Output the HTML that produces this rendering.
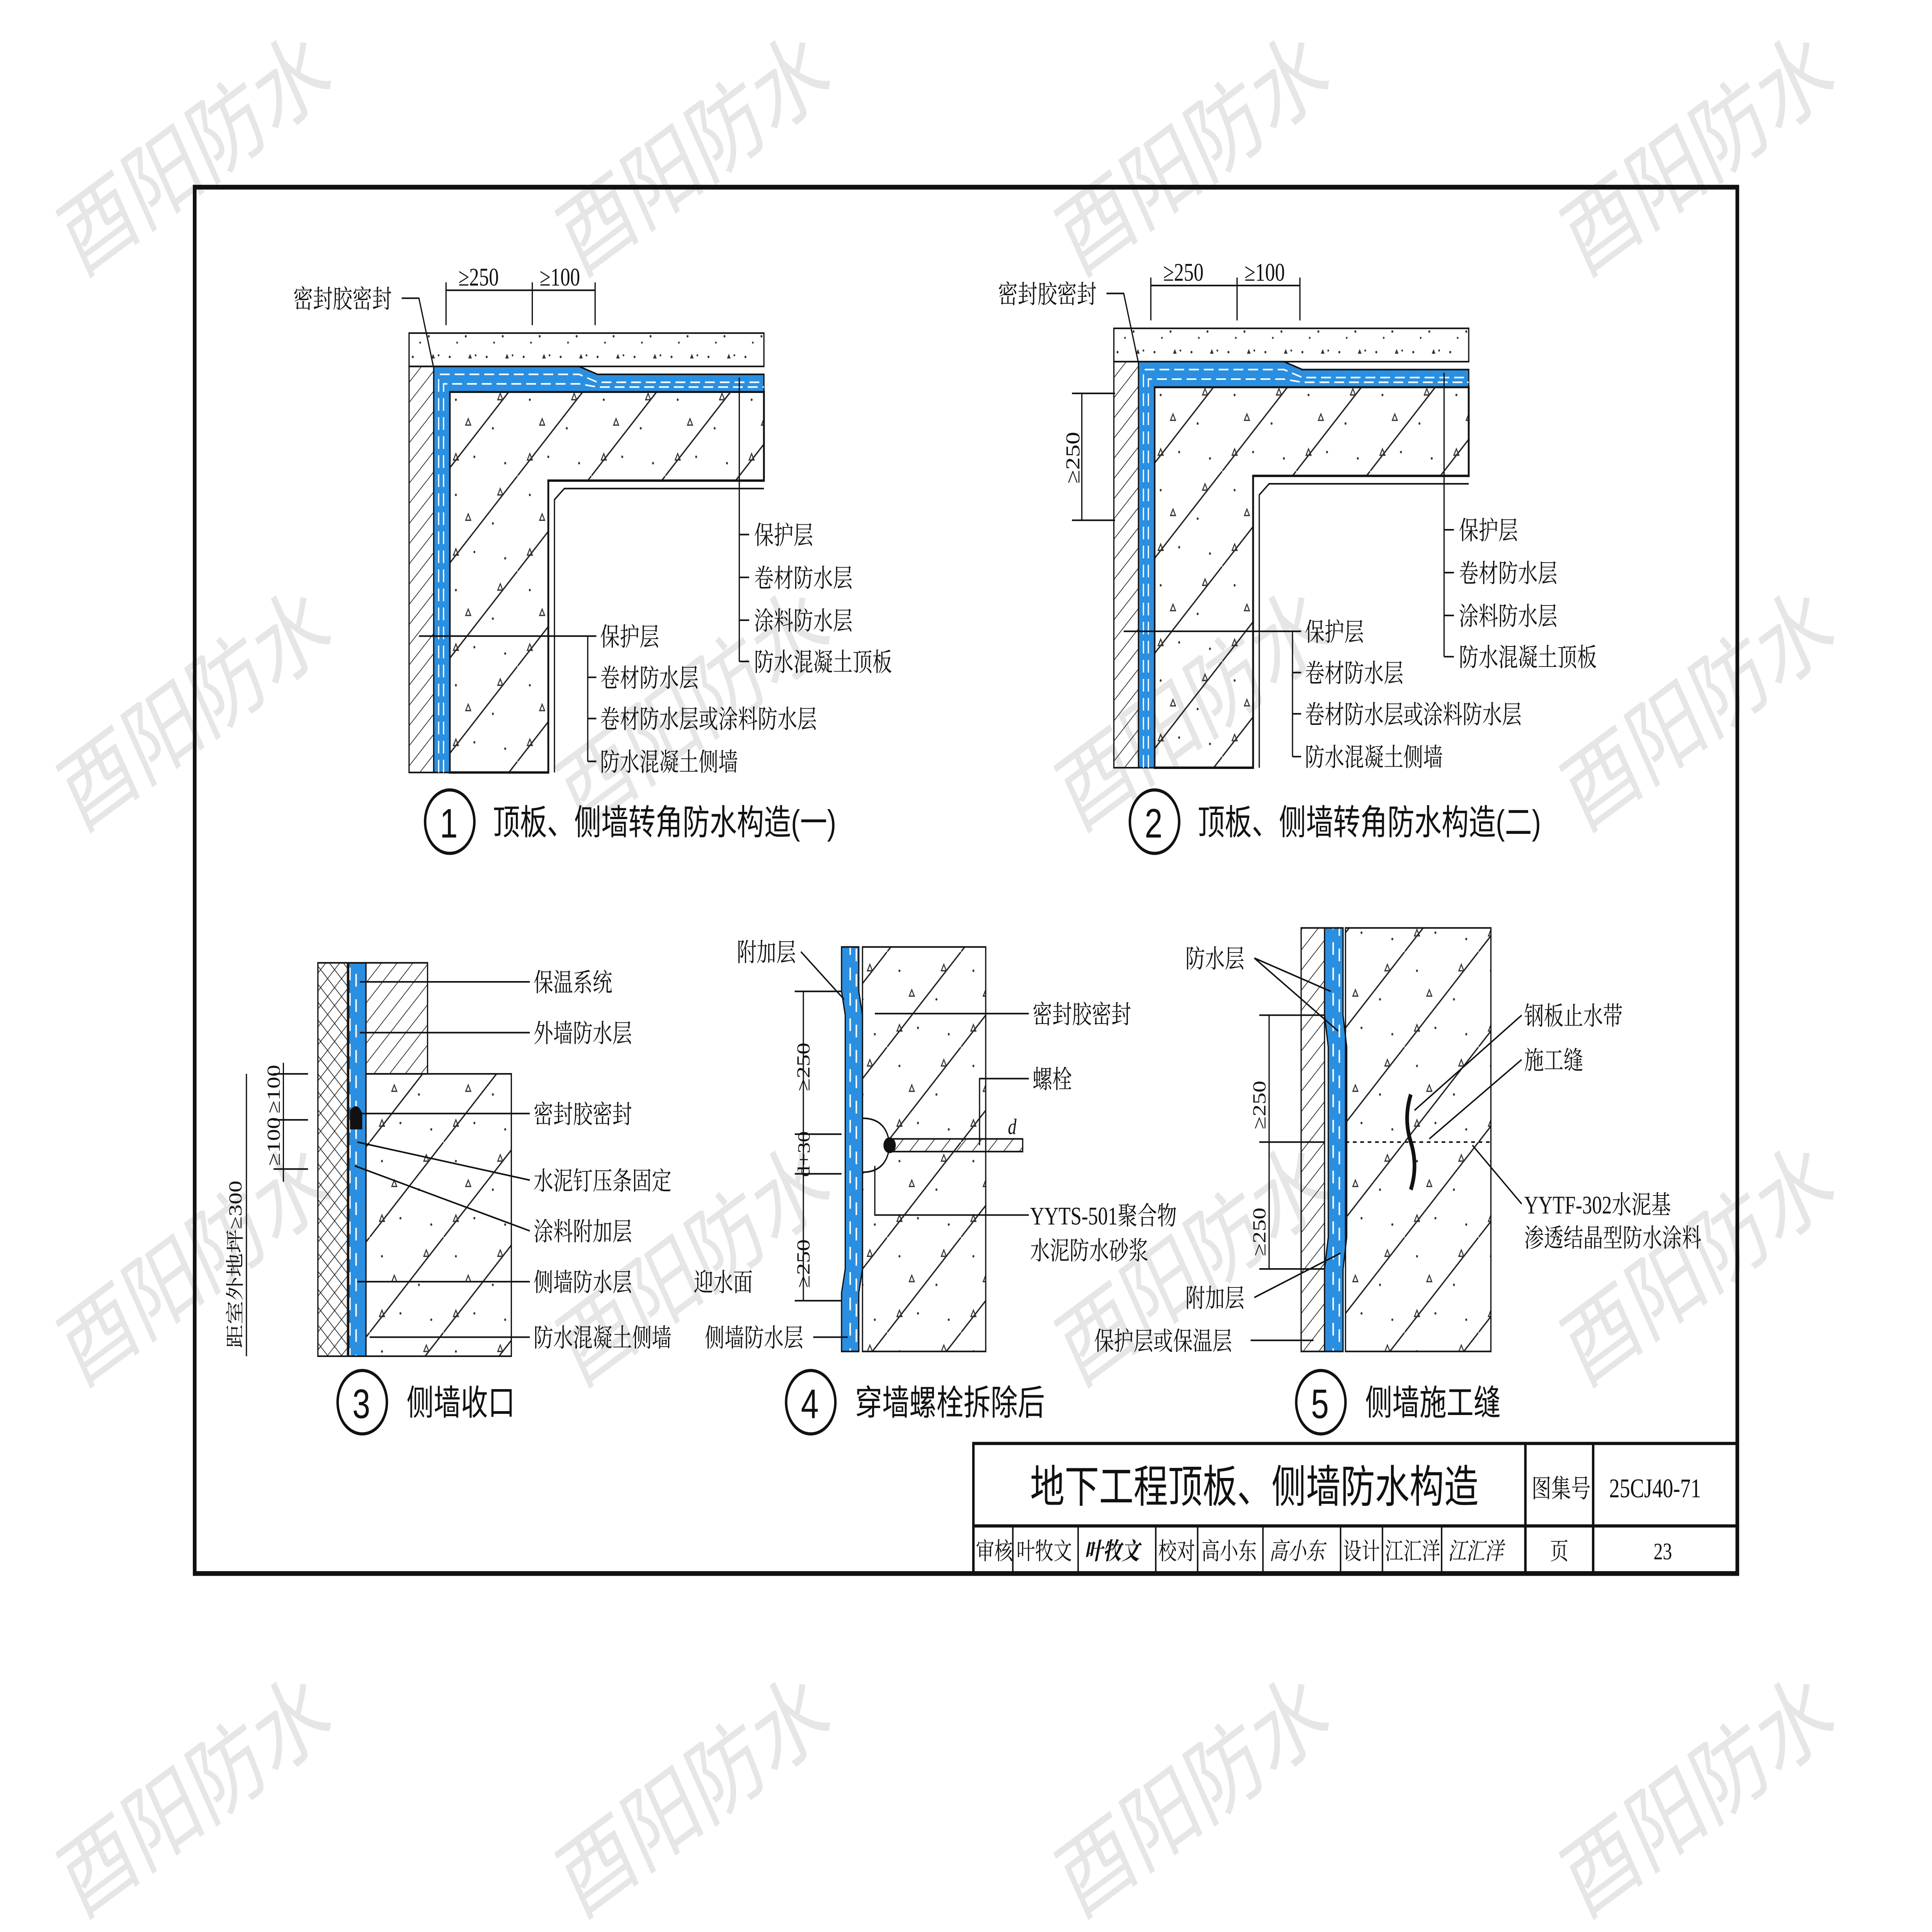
<!DOCTYPE html>
<html><head><meta charset="utf-8"><style>
html,body{margin:0;padding:0;background:#fff;width:100%;height:100%;overflow:hidden}
svg{display:block;width:100vw;height:100vh;overflow:hidden}
text{font-family:"Liberation Serif","Noto Serif CJK SC","Noto Sans CJK SC",serif;fill:#111}
.s{font-family:"Liberation Sans","Noto Sans CJK SC",sans-serif}
.wm text{font-family:"Liberation Sans","Noto Sans CJK SC",sans-serif;fill:#e6e6e6;font-size:60px}
</style></head><body>
<svg viewBox="0 0 1568 1218" preserveAspectRatio="none" xmlns="http://www.w3.org/2000/svg">
<defs>
<clipPath id="all"><rect width="1568" height="1218"/></clipPath>
<pattern id="h" width="9" height="9" patternUnits="userSpaceOnUse" patternTransform="rotate(45)"><line x1="0" y1="0" x2="0" y2="9" stroke="#222" stroke-width="1"/></pattern>
<pattern id="x" width="8" height="8" patternUnits="userSpaceOnUse" patternTransform="rotate(45)"><line x1="0" y1="0" x2="0" y2="8" stroke="#222" stroke-width="1"/><line x1="0" y1="0" x2="8" y2="0" stroke="#222" stroke-width="1"/></pattern>
<pattern id="c" width="60" height="60" patternUnits="userSpaceOnUse">
<line x1="0" y1="60" x2="60" y2="0" stroke="#222" stroke-width="1"/>
<circle cx="10" cy="12" r="0.8" fill="#333"/><circle cx="40" cy="30" r="0.8" fill="#333"/><circle cx="25" cy="48" r="0.8" fill="#333"/><circle cx="50" cy="52" r="0.8" fill="#333"/>
<path d="M18 28 l4 0 l-2 -4z" fill="none" stroke="#333" stroke-width="0.8"/><path d="M44 12 l4 0 l-2 -4z" fill="none" stroke="#333" stroke-width="0.8"/><path d="M8 50 l4 0 l-2 -4z" fill="none" stroke="#333" stroke-width="0.8"/>
</pattern>
<pattern id="d" width="30" height="20" patternUnits="userSpaceOnUse">
<circle cx="5" cy="5" r="0.8" fill="#333"/><circle cx="18" cy="12" r="0.8" fill="#333"/><circle cx="26" cy="4" r="0.7" fill="#333"/><circle cx="11" cy="16" r="0.7" fill="#333"/>
<path d="M20 6 l3 0 l-1.5 -3z" fill="#333"/>
</pattern>
<pattern id="bv" width="14" height="16" patternUnits="userSpaceOnUse"><rect width="14" height="16" fill="#2a8fe0"/><line x1="4" y1="2" x2="4" y2="10" stroke="#fff" stroke-width="1.2"/><line x1="9" y1="6" x2="9" y2="14" stroke="#fff" stroke-width="1.2"/></pattern>
</defs>
<rect width="1568" height="1218" fill="#fff"/>
<g clip-path="url(#all)">
<g class="wm">
<text transform="translate(65,175) rotate(-30)">酉阳防水</text><text transform="translate(470,175) rotate(-30)">酉阳防水</text><text transform="translate(875,175) rotate(-30)">酉阳防水</text><text transform="translate(1285,175) rotate(-30)">酉阳防水</text>
<text transform="translate(65,525) rotate(-30)">酉阳防水</text><text transform="translate(470,525) rotate(-30)">酉阳防水</text><text transform="translate(875,525) rotate(-30)">酉阳防水</text><text transform="translate(1285,525) rotate(-30)">酉阳防水</text>
<text transform="translate(65,875) rotate(-30)">酉阳防水</text><text transform="translate(470,875) rotate(-30)">酉阳防水</text><text transform="translate(875,875) rotate(-30)">酉阳防水</text><text transform="translate(1285,875) rotate(-30)">酉阳防水</text>
<text transform="translate(65,1210) rotate(-30)">酉阳防水</text><text transform="translate(470,1210) rotate(-30)">酉阳防水</text><text transform="translate(875,1210) rotate(-30)">酉阳防水</text><text transform="translate(1285,1210) rotate(-30)">酉阳防水</text>
</g>
</g>
<rect x="158" y="118" width="1252" height="874" fill="none" stroke="#111" stroke-width="3"/>

<g id="d1">
<rect x="332" y="210" width="288" height="21" fill="url(#d)" stroke="#111" stroke-width="1"/>
<rect x="332" y="231" width="20" height="256" fill="url(#h)" stroke="#111" stroke-width="1"/>
<polygon points="365,247 620,247 620,303 445,303 445,487 365,487" fill="url(#c)" stroke="#111" stroke-width="1.5"/>
<path d="M352 231 L470 231 L485 236 L620 236 L620 247 L365 247 L365 487 L352 487Z" fill="#2a8fe0" stroke="#111" stroke-width="1"/>
<path d="M356 487 V236 H470 L485 241 H620 M360 487 V242 H470 L485 244 H620" fill="none" stroke="#fff" stroke-width="1" stroke-dasharray="8 4"/>
<path d="M450 487 V315 L458 308 H620" fill="none" stroke="#111" stroke-width="1"/>
<line x1="362" y1="183" x2="483" y2="183" stroke="#111"/><line x1="362" y1="178" x2="362" y2="205" stroke="#111"/><line x1="432" y1="178" x2="432" y2="205" stroke="#111"/><line x1="483" y1="178" x2="483" y2="205" stroke="#111"/>
<text x="372" y="180" font-size="16">≥250</text><text x="438" y="180" font-size="16">≥100</text>
<text x="238" y="194" font-size="16">密封胶密封</text>
<polyline points="326,188 340,188 352,232" fill="none" stroke="#111"/>
<line x1="600" y1="238" x2="600" y2="417" stroke="#111"/>
<g stroke="#111"><line x1="600" y1="337" x2="608" y2="337"/><line x1="600" y1="364" x2="608" y2="364"/><line x1="600" y1="391" x2="608" y2="391"/><line x1="600" y1="417" x2="608" y2="417"/></g>
<text x="612" y="343" font-size="16">保护层</text><text x="612" y="370" font-size="16">卷材防水层</text><text x="612" y="397" font-size="16">涂料防水层</text><text x="612" y="423" font-size="16">防水混凝土顶板</text>
<line x1="340" y1="401" x2="484" y2="401" stroke="#111"/><line x1="477" y1="401" x2="477" y2="480" stroke="#111"/>
<g stroke="#111"><line x1="477" y1="427" x2="484" y2="427"/><line x1="477" y1="453" x2="484" y2="453"/><line x1="477" y1="480" x2="484" y2="480"/></g>
<text x="487" y="407" font-size="16">保护层</text><text x="487" y="433" font-size="16">卷材防水层</text><text x="487" y="459" font-size="16">卷材防水层或涂料防水层</text><text x="487" y="486" font-size="16">防水混凝土侧墙</text>
</g>
<use href="#d1" transform="translate(572,-3)"/>
<line x1="878" y1="248" x2="878" y2="328" stroke="#111"/><line x1="870" y1="248" x2="905" y2="248" stroke="#111"/><line x1="870" y1="328" x2="905" y2="328" stroke="#111"/>
<text transform="translate(876,305) rotate(-90)" font-size="16">≥250</text>
<circle cx="365" cy="518" r="20" fill="none" stroke="#111" stroke-width="2"/><text x="357" y="528" font-size="26" class="s">1</text>
<text x="400" y="526" font-size="22" class="s">顶板、侧墙转角防水构造(一)</text>
<circle cx="937" cy="518" r="20" fill="none" stroke="#111" stroke-width="2"/><text x="929" y="528" font-size="26" class="s">2</text>
<text x="972" y="526" font-size="22" class="s">顶板、侧墙转角防水构造(二)</text>

<rect x="258" y="607" width="24" height="248" fill="url(#x)" stroke="#111"/>
<rect x="283" y="607" width="14" height="248" fill="url(#bv)" stroke="#111"/>
<rect x="297" y="607" width="50" height="70" fill="url(#h)" stroke="#111"/>
<rect x="297" y="677" width="118" height="178" fill="url(#c)" stroke="#111"/>
<path d="M284 700 q6 -6 10 2 v10 h-10z" fill="#111"/>
<g stroke="#111"><line x1="292" y1="619" x2="430" y2="619"/><line x1="292" y1="651" x2="430" y2="651"/><line x1="290" y1="702" x2="430" y2="702"/><line x1="290" y1="720" x2="430" y2="744"/><line x1="288" y1="735" x2="430" y2="776"/><line x1="290" y1="808" x2="430" y2="808"/><line x1="300" y1="843" x2="430" y2="843"/></g>
<text x="433" y="625" font-size="16">保温系统</text><text x="433" y="657" font-size="16">外墙防水层</text><text x="433" y="708" font-size="16">密封胶密封</text><text x="433" y="750" font-size="16">水泥钉压条固定</text><text x="433" y="782" font-size="16">涂料附加层</text><text x="433" y="814" font-size="16">侧墙防水层</text><text x="433" y="849" font-size="16">防水混凝土侧墙</text>
<line x1="230" y1="670" x2="230" y2="745" stroke="#111"/>
<g stroke="#111"><line x1="222" y1="677" x2="250" y2="677"/><line x1="222" y1="706" x2="250" y2="706"/><line x1="222" y1="737" x2="250" y2="737"/></g>
<text transform="translate(227,702) rotate(-90)" font-size="15">≥100</text><text transform="translate(227,735) rotate(-90)" font-size="15">≥100</text>
<line x1="200" y1="677" x2="200" y2="855" stroke="#111"/>
<text transform="translate(196,850) rotate(-90)" font-size="15">距室外地坪≥300</text>
<circle cx="294" cy="884" r="20" fill="none" stroke="#111" stroke-width="2"/><text x="286" y="894" font-size="26" class="s">3</text>
<text x="330" y="892" font-size="22" class="s">侧墙收口</text>

<path d="M683 597 H697 V625 L700 640 V800 L697 815 V852 H683 V815 L686 800 V640 L683 625Z" fill="url(#bv)" stroke="#111"/>
<rect x="700" y="597" width="100" height="255" fill="url(#c)" stroke="#111"/>
<path d="M700 705 q20 0 22 17 q-2 17 -22 17z" fill="#fff" stroke="#111"/>
<rect x="720" y="718" width="110" height="8" fill="url(#h)" stroke="#111"/>
<circle cx="722" cy="722" r="5" fill="#111"/>
<line x1="652" y1="625" x2="652" y2="820" stroke="#111"/>
<g stroke="#111"><line x1="645" y1="625" x2="683" y2="625"/><line x1="645" y1="715" x2="683" y2="715"/><line x1="645" y1="740" x2="683" y2="740"/><line x1="645" y1="820" x2="683" y2="820"/></g>
<text transform="translate(657,688) rotate(-90)" font-size="15">≥250</text><text transform="translate(657,742) rotate(-90)" font-size="14">d+30</text><text transform="translate(657,812) rotate(-90)" font-size="15">≥250</text>
<text x="598" y="606" font-size="16">附加层</text><line x1="650" y1="600" x2="685" y2="630" stroke="#111"/>
<text x="838" y="645" font-size="16">密封胶密封</text><line x1="710" y1="639" x2="835" y2="639" stroke="#111"/>
<text x="838" y="686" font-size="16">螺栓</text><polyline points="795,722 795,680 835,680" fill="none" stroke="#111"/>
<text x="818" y="715" font-size="14" font-style="italic">d</text>
<text x="836" y="772" font-size="16">YYTS-501聚合物</text><text x="836" y="794" font-size="16">水泥防水砂浆</text><polyline points="710,735 710,766 835,766" fill="none" stroke="#111"/>
<text x="563" y="814" font-size="16">迎水面</text>
<text x="572" y="849" font-size="16">侧墙防水层</text><line x1="660" y1="843" x2="688" y2="843" stroke="#111"/>
<circle cx="658" cy="884" r="20" fill="none" stroke="#111" stroke-width="2"/><text x="650" y="894" font-size="26" class="s">4</text>
<text x="694" y="892" font-size="22" class="s">穿墙螺栓拆除后</text>

<rect x="1056" y="585" width="19" height="267" fill="url(#h)" stroke="#111"/>
<path d="M1075 585 H1090 V640 L1093 660 V780 L1090 800 V852 H1075 V800 L1078 780 V660 L1075 640Z" fill="url(#bv)" stroke="#111"/>
<rect x="1092" y="585" width="118" height="267" fill="url(#c)" stroke="#111"/>
<line x1="1092" y1="720" x2="1210" y2="720" stroke="#111" stroke-dasharray="3 3"/>
<path d="M1145 690 q-6 15 0 30 q6 15 0 30" fill="none" stroke="#111" stroke-width="3"/>
<line x1="1030" y1="640" x2="1030" y2="800" stroke="#111"/>
<g stroke="#111"><line x1="1022" y1="640" x2="1075" y2="640"/><line x1="1022" y1="720" x2="1075" y2="720"/><line x1="1022" y1="800" x2="1075" y2="800"/></g>
<text transform="translate(1027,712) rotate(-90)" font-size="15">≥250</text><text transform="translate(1027,792) rotate(-90)" font-size="15">≥250</text>
<text x="962" y="610" font-size="16">防水层</text><line x1="1018" y1="604" x2="1080" y2="625" stroke="#111"/><line x1="1018" y1="604" x2="1086" y2="650" stroke="#111"/>
<text x="1237" y="646" font-size="16">钢板止水带</text><line x1="1148" y1="700" x2="1235" y2="640" stroke="#111"/>
<text x="1237" y="674" font-size="16">施工缝</text><line x1="1160" y1="718" x2="1235" y2="668" stroke="#111"/>
<text x="1237" y="765" font-size="16">YYTF-302水泥基</text><text x="1237" y="786" font-size="16">渗透结晶型防水涂料</text><line x1="1195" y1="722" x2="1235" y2="759" stroke="#111"/>
<text x="962" y="824" font-size="16">附加层</text><line x1="1018" y1="818" x2="1088" y2="790" stroke="#111"/>
<text x="888" y="851" font-size="16">保护层或保温层</text><line x1="1015" y1="845" x2="1066" y2="845" stroke="#111"/>
<circle cx="1072" cy="884" r="20" fill="none" stroke="#111" stroke-width="2"/><text x="1064" y="894" font-size="26" class="s">5</text>
<text x="1108" y="892" font-size="22" class="s">侧墙施工缝</text>

<g stroke="#111" stroke-width="2" fill="none">
<polyline points="790,992 790,910 1410,910"/><line x1="790" y1="962" x2="1410" y2="962"/>
<line x1="1238" y1="910" x2="1238" y2="992"/><line x1="1293" y1="910" x2="1293" y2="992"/>
<g stroke-width="1.2"><line x1="822" y1="962" x2="822" y2="992"/><line x1="875" y1="962" x2="875" y2="992"/><line x1="938" y1="962" x2="938" y2="992"/><line x1="972" y1="962" x2="972" y2="992"/><line x1="1025" y1="962" x2="1025" y2="992"/><line x1="1088" y1="962" x2="1088" y2="992"/><line x1="1122" y1="962" x2="1122" y2="992"/><line x1="1170" y1="962" x2="1170" y2="992"/></g>
</g>
<text x="836" y="947" font-size="28" class="s">地下工程顶板、侧墙防水构造</text>
<text x="1243" y="944" font-size="16">图集号</text><text x="1306" y="944" font-size="17">25CJ40-71</text>
<g font-size="15"><text x="792" y="983">审核</text><text x="825" y="983">叶牧文</text><text x="880" y="983" font-style="italic" font-weight="bold">叶牧文</text><text x="940" y="983">校对</text><text x="975" y="983">高小东</text><text x="1030" y="983" font-style="italic">高小东</text><text x="1090" y="983">设计</text><text x="1124" y="983">江汇洋</text><text x="1175" y="983" font-style="italic">江汇洋</text><text x="1258" y="983">页</text><text x="1342" y="983">23</text></g>
</svg>
</body></html>
